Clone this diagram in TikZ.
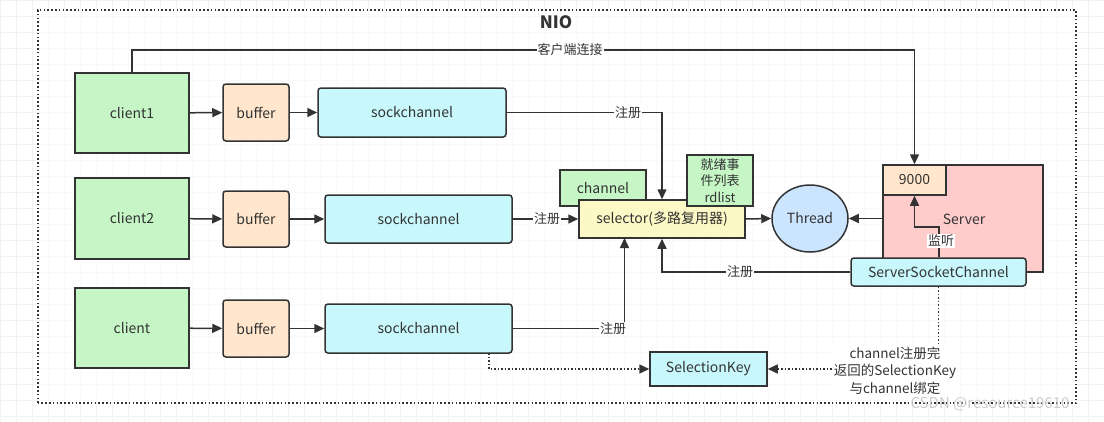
\documentclass[tikz,border=0pt]{standalone}
\usepackage{fontspec}
\setmainfont{Noto Sans CJK SC}
\usetikzlibrary{arrows.meta,shapes.geometric}
\definecolor{ink}{HTML}{333333}
\definecolor{cgreen}{HTML}{C6F5C6}
\definecolor{cpeach}{HTML}{FFE6CC}
\definecolor{ccyan}{HTML}{C8F8FC}
\definecolor{cyellow}{HTML}{FDF9C6}
\definecolor{cblue}{HTML}{CCE5FF}
\definecolor{cpink}{HTML}{FFCCCC}
\definecolor{gridc}{HTML}{F2F2F2}
\tikzset{
  box/.style={draw=ink, line width=1.5pt, inner sep=0pt, text=ink, font=\fontsize{14}{16}\selectfont, align=center},
  sq/.style={box},
  rbox/.style={box, rounded corners=3pt},
  conn/.style={draw=ink, line width=1.5pt, -{Triangle[length=10pt,width=9pt]}},
  dconn/.style={draw=ink, line width=1.5pt, dash pattern=on 1.5pt off 2pt, -{Triangle[length=10pt,width=9pt]}},
  lbl/.style={fill=white, inner sep=1pt, text=ink, font=\fontsize{13}{15}\selectfont, align=center},
}
\newcommand{\bx}[8]{% name, style, x1,y1,x2,y2, fill, text
  \node[#2, fill=#7, minimum width=#5pt-#3pt, minimum height=#6pt-#4pt] (#1) at ({(#3+#5)/2},{(#4+#6)/2}) {#8};}
\begin{document}
\begin{tikzpicture}[x=1pt,y=-1pt]
\useasboundingbox (0,0) rectangle (1104,421);
\fill[white] (0,0) rectangle (1104,421);
\foreach \gx in {0,16,...,1104} \draw[gridc, line width=0.6pt] (\gx,0) -- (\gx,421);
\foreach \gy in {0,16,...,421} \draw[gridc, line width=0.6pt] (0,\gy) -- (1104,\gy);
% container
\node[draw=ink, line width=2pt, dash pattern=on 1.6pt off 2.2pt, fill=white, fill opacity=0.6, draw opacity=1, text opacity=1, minimum width=1038.5pt, minimum height=393pt, inner sep=0pt] (nio) at (556.75,206.5) {};
\node[text=ink, font=\fontsize{17}{20}\selectfont\bfseries] (niot) at (556,22) {NIO};
% clients
\bx{c1}{sq}{75}{73}{189}{153}{cgreen}{client1}
\bx{c2}{sq}{75}{178}{189}{259}{cgreen}{client2}
\bx{c3}{sq}{75}{288}{189}{368}{cgreen}{client}
\bx{b1}{rbox}{223}{84}{289}{141}{cpeach}{buffer}
\bx{b2}{rbox}{223}{191}{289}{247}{cpeach}{buffer}
\bx{b3}{rbox}{223}{300}{289}{357}{cpeach}{buffer}
\bx{s1}{rbox}{318}{88}{506}{137}{ccyan}{sockchannel}
\bx{s2}{rbox}{325}{195}{512}{243}{ccyan}{sockchannel}
\bx{s3}{rbox}{325}{304}{512}{353}{ccyan}{sockchannel}
% selector group
\bx{ch}{sq}{560}{170}{646}{206}{cgreen}{\raisebox{1pt}{channel}}
\bx{sel}{sq}{579}{200}{745}{238}{cyellow}{selector(多路复用器)}
\bx{rd}{sq}{687}{155}{753}{206}{cgreen}{}
\node[text=ink, align=center, inner sep=0pt, font=\fontsize{13}{16.5}\selectfont] (rdt) at (720,180.5) {就绪事\\件列表\\rdlist};
\node[draw=ink, line width=1.5pt, fill=cblue, ellipse, minimum width=76pt, minimum height=67pt, inner sep=0pt, text=ink, font=\fontsize{14}{16}\selectfont] (th) at (810,218.5) {Thread};
% server
\bx{srv}{sq}{883}{165}{1043}{272}{cpink}{}
\node[text=ink, font=\fontsize{14}{16}\selectfont] (srvt) at (964,219) {Server};
\bx{p9}{sq}{883}{165}{946}{195}{cpeach}{9000}
\bx{ssc}{rbox}{851}{258}{1026}{286}{ccyan}{ServerSocketChannel}
\bx{sk}{sq}{650}{352}{767}{386}{ccyan}{SelectionKey}
% connectors
\coordinate (k1) at (132,50);
\coordinate (k2) at (914.5,50);
\draw[conn] (c1.north) -- (k1) -- (k2) -- (p9.north);
\node[lbl] (l0) at (570,50) {客户端连接};
\draw[conn] (c1) -- (b1);
\draw[conn] (c2) -- (b2);
\draw[conn] (c3) -- (b3);
\draw[conn] (b1) -- (s1);
\draw[conn] (b2) -- (s2);
\draw[conn] (b3) -- (s3);
\coordinate (k3) at (662,112.5);
\draw[conn] (s1.east) -- (k3) -- (sel.north);
\node[lbl] (l1) at (628,112.5) {注册};
\draw[conn] (s2.east) -- (sel.west);
\node[lbl] (l2) at (547,219) {注册};
\coordinate (k4) at (624.5,328.5);
\coordinate (k5) at (624.5,238);
\draw[conn] (s3.east) -- (k4) -- (k5);
\node[lbl] (l3) at (613,329) {注册};
\coordinate (k6) at (662,272);
\draw[conn] (ssc.west) -- (k6) -- (sel.south);
\node[lbl] (l4) at (740,272) {注册};
\draw[conn] (sel.east) -- (th.west);
\draw[conn] (srv.west |- th.east) -- (th.east);
\coordinate (k7) at (939,227);
\coordinate (k8) at (914.5,227);
\draw[conn] (ssc.north -| k7) -- (k7) -- (k8) -- (p9.south);
\node[lbl] (l5) at (941,241) {监听};
\coordinate (k9) at (489,353);
\coordinate (k10) at (489,369);
\draw[dconn] (k9) -- (k10) -- (sk.west);
\coordinate (k11) at (938.5,369);
\draw[dconn] (ssc.south) -- (k11) -- (sk.east);
\node[lbl, fill=white, inner sep=2pt, font=\fontsize{13.5}{17.5}\selectfont] (l6) at (895,370.5) {channel注册完\\返回的SelectionKey\\与channel绑定};
\node[text=gray!40, font=\fontsize{15}{16}\selectfont] (wm) at (990,404) {CSDN @resource19610};
\end{tikzpicture}
\end{document}
